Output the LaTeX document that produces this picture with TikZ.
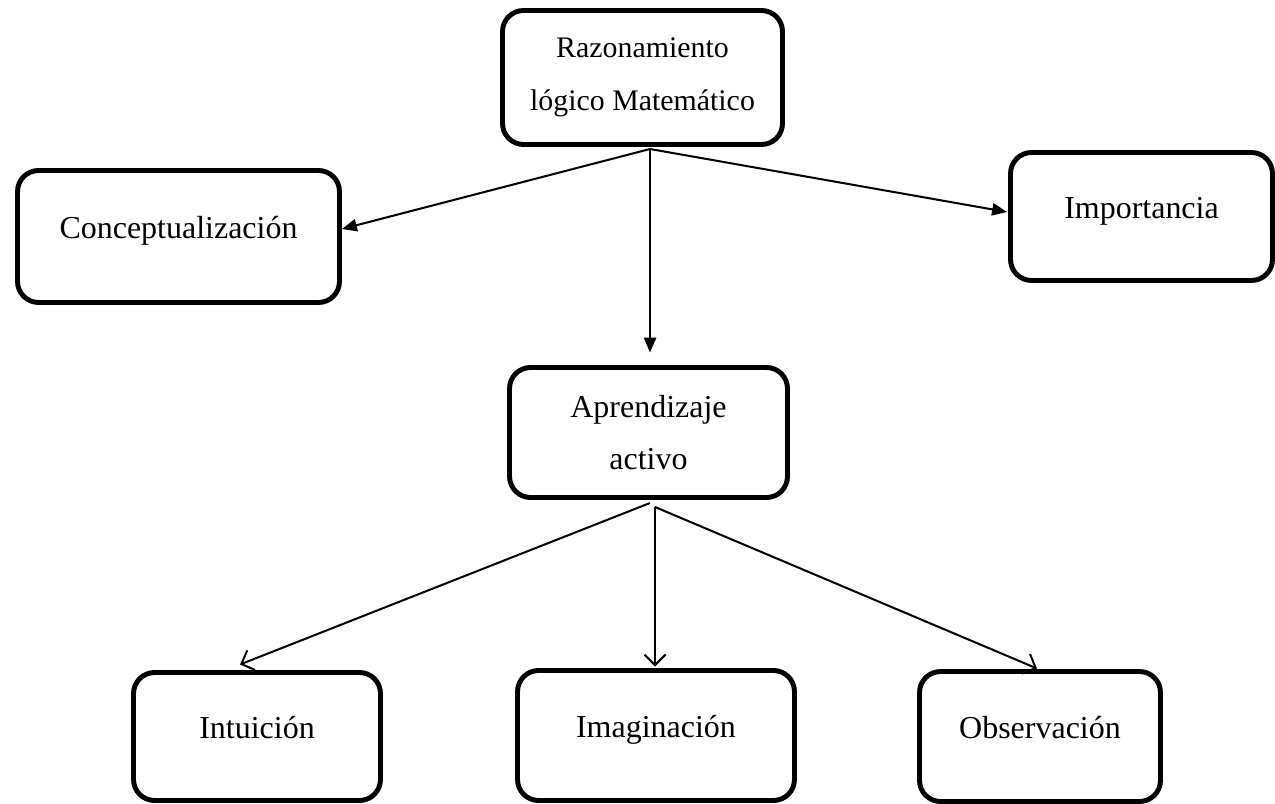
\documentclass[tikz,border=0pt]{standalone}
\usepackage{fontspec}
\setmainfont{Liberation Serif}
\usetikzlibrary{arrows.meta}
\begin{document}
\begin{tikzpicture}[x=0.02cm,y=-0.02cm,
  box/.style={draw=black, line width=2.8pt, rounded corners=0.42cm, inner sep=0pt, outer sep=0pt,
    align=center, font=\fontsize{18.2}{30}\selectfont},
  single/.style={text height=0.6em, text depth=0.4em},
  solidarrow/.style={line width=1.15pt, -{Triangle[length=8.5pt,width=7pt]}},
  openarrow/.style={line width=1.15pt, -{Straight Barb[length=6pt,width=12pt,line width=1.15pt]}}
]
\useasboundingbox (0,0) rectangle (1275,804);
\fill[white] (0,0) rectangle (1275,804);

\node[box, font=\fontsize{17}{30}\selectfont, minimum width=5.6cm, minimum height=2.68cm] (raz) at (642.5,77.5) {Razonamiento\\lógico Matemático};
\node[box, single, minimum width=6.44cm, minimum height=2.64cm] (concept) at (178.5,236.5) {Conceptualización};
\node[box, single, minimum width=5.24cm, minimum height=2.56cm] (import) at (1141.5,216.5) {Importancia};
\node[box, minimum width=5.56cm, minimum height=2.6cm] (aprend) at (648.5,432.5) {Aprendizaje\\activo};
\node[box, single, minimum width=4.94cm, minimum height=2.56cm] (intu) at (257,736.5) {Intuición};
\node[box, single, minimum width=5.54cm, minimum height=2.6cm] (imag) at (656,735.5) {Imaginación};
\node[box, single, minimum width=4.82cm, minimum height=2.6cm] (obs) at (1040,736.5) {Observación};

\coordinate (s1) at (650,149);
\coordinate (s2) at (650,503);
\coordinate (s3) at (655,507);

\draw[solidarrow] (s1) -- ([xshift=0.05cm,yshift=0.15cm]concept.east);
\draw[solidarrow] (s1) -- ([xshift=-0.07cm,yshift=0.09cm]import.west);
\draw[solidarrow, shorten >=0.3cm] (s1) -- (s1 |- aprend.north);

\draw[openarrow] (s2) -- ([xshift=-0.34cm,yshift=0.16cm]intu.north);
\draw[openarrow] (s3) -- ([yshift=0.08cm]s3 |- imag.north);
\draw[openarrow] (s3) -- ([xshift=-0.06cm,yshift=0.06cm]obs.north);
\end{tikzpicture}
\end{document}
